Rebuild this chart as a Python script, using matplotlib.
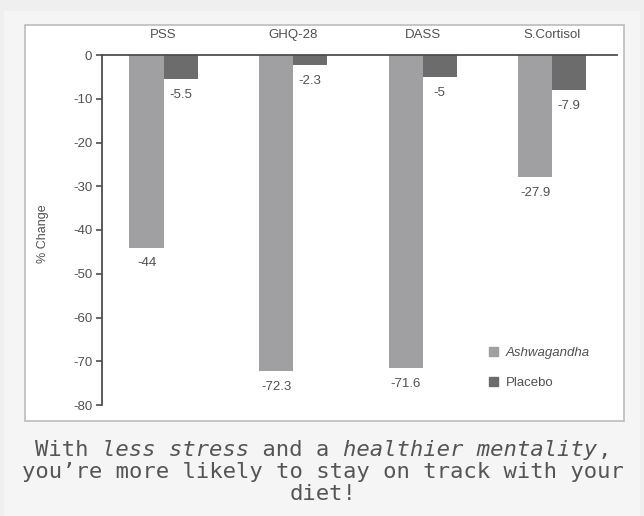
import matplotlib.pyplot as plt
from matplotlib.patches import Patch, Rectangle
import numpy as np

plt.rcParams['font.family'] = ['Liberation Sans', 'DejaVu Sans']
plt.rcParams['axes.unicode_minus'] = False

measures = ['PSS', 'GHQ-28', 'DASS', 'S.Cortisol']
ashwagandha = [-44, -72.3, -71.6, -27.9]
placebo = [-5.5, -2.3, -5, -7.9]
series_names = ['Ashwagandha', 'Placebo']
y_ticks = [0, -10, -20, -30, -40, -50, -60, -70, -80]

caption_lines = [
    [('With ', 'normal'), ('less stress', 'italic'), (' and a ', 'normal'),
     ('healthier mentality', 'italic'), (',', 'normal')],
    [('you\u2019re more likely to stay on track with your', 'normal')],
    [('diet!', 'normal')],
]

c_ash = '#a0a0a2'
c_pla = '#6c6c6c'
c_axis = '#4e4e4e'
c_text = '#505050'

W, H = 644, 516
fig = plt.figure(figsize=(W / 100, H / 100), dpi=100, facecolor='#efefef')

# page panel and the white chart box
fig.patches.append(Rectangle((4 / W, 0), 636 / W, 505 / H, transform=fig.transFigure,
                             facecolor='#f5f5f5', edgecolor='none', zorder=-3))
fig.patches.append(Rectangle((25 / W, 1 - 421 / H), 599 / W, 396 / H, transform=fig.transFigure,
                             facecolor='white', edgecolor='#bcbcbc', lw=1.2, zorder=-2))

ax = fig.add_axes([102 / W, 1 - 405 / H, 515 / W, 350 / H])
ax.patch.set_visible(False)

x = np.arange(len(measures))
w = 0.263
b1 = ax.bar(x - w / 2, ashwagandha, w, color=c_ash, label=series_names[0])
b2 = ax.bar(x + w / 2, placebo, w, color=c_pla, label=series_names[1])

for bars, vals in ((b1, ashwagandha), (b2, placebo)):
    for r, v in zip(bars, vals):
        ax.annotate('{:g}'.format(v), (r.get_x() + r.get_width() / 2, v),
                    xytext=(0, -11.5), textcoords='offset points',
                    ha='center', va='center', fontsize=9.5, color=c_text)

ax.set_xlim(-0.475, 3.5)
ax.set_ylim(-80, 0)

ax.xaxis.tick_top()
ax.set_xticks(x, measures)
ax.tick_params(axis='x', length=0, pad=10, labelsize=9.5, labelcolor=c_text)
ax.set_yticks(y_ticks)
ax.tick_params(axis='y', direction='out', length=4, width=1.2, color=c_axis,
               labelsize=9.5, labelcolor=c_text, pad=3)

for s in ('bottom', 'right'):
    ax.spines[s].set_visible(False)
for s in ('top', 'left'):
    ax.spines[s].set_color(c_axis)
    ax.spines[s].set_linewidth(1.3)

ax.set_ylabel('% Change', fontsize=9, color=c_text)
ax.yaxis.set_label_coords(-0.102, 0.49)

handles = [Patch(color=c_ash), Patch(color=c_pla)]
leg = ax.legend(handles, series_names, loc='upper left', bbox_to_anchor=(0.752, 0.165),
                frameon=False, handlelength=0.65, handleheight=0.65, handletextpad=0.6,
                labelspacing=1.35, borderpad=0, borderaxespad=0, fontsize=9.5)
for t in leg.get_texts():
    t.set_color(c_text)
leg.get_texts()[0].set_style('italic')

# caption, monospace, with italic parts
fs = 16
cw = 0.6021 * fs * 100 / 72 / W
for i, line in enumerate(caption_lines):
    n = sum(len(seg) for seg, _ in line)
    x0 = 323 / W - n * cw / 2
    y0 = 1 - (450 + 22 * i) / H
    for seg, style in line:
        fig.text(x0, y0, seg, family='DejaVu Sans Mono', style=style, fontsize=fs,
                 color='#555555', ha='left', va='center')
        x0 += len(seg) * cw

fig.savefig('out.png', dpi=100, facecolor=fig.get_facecolor())
